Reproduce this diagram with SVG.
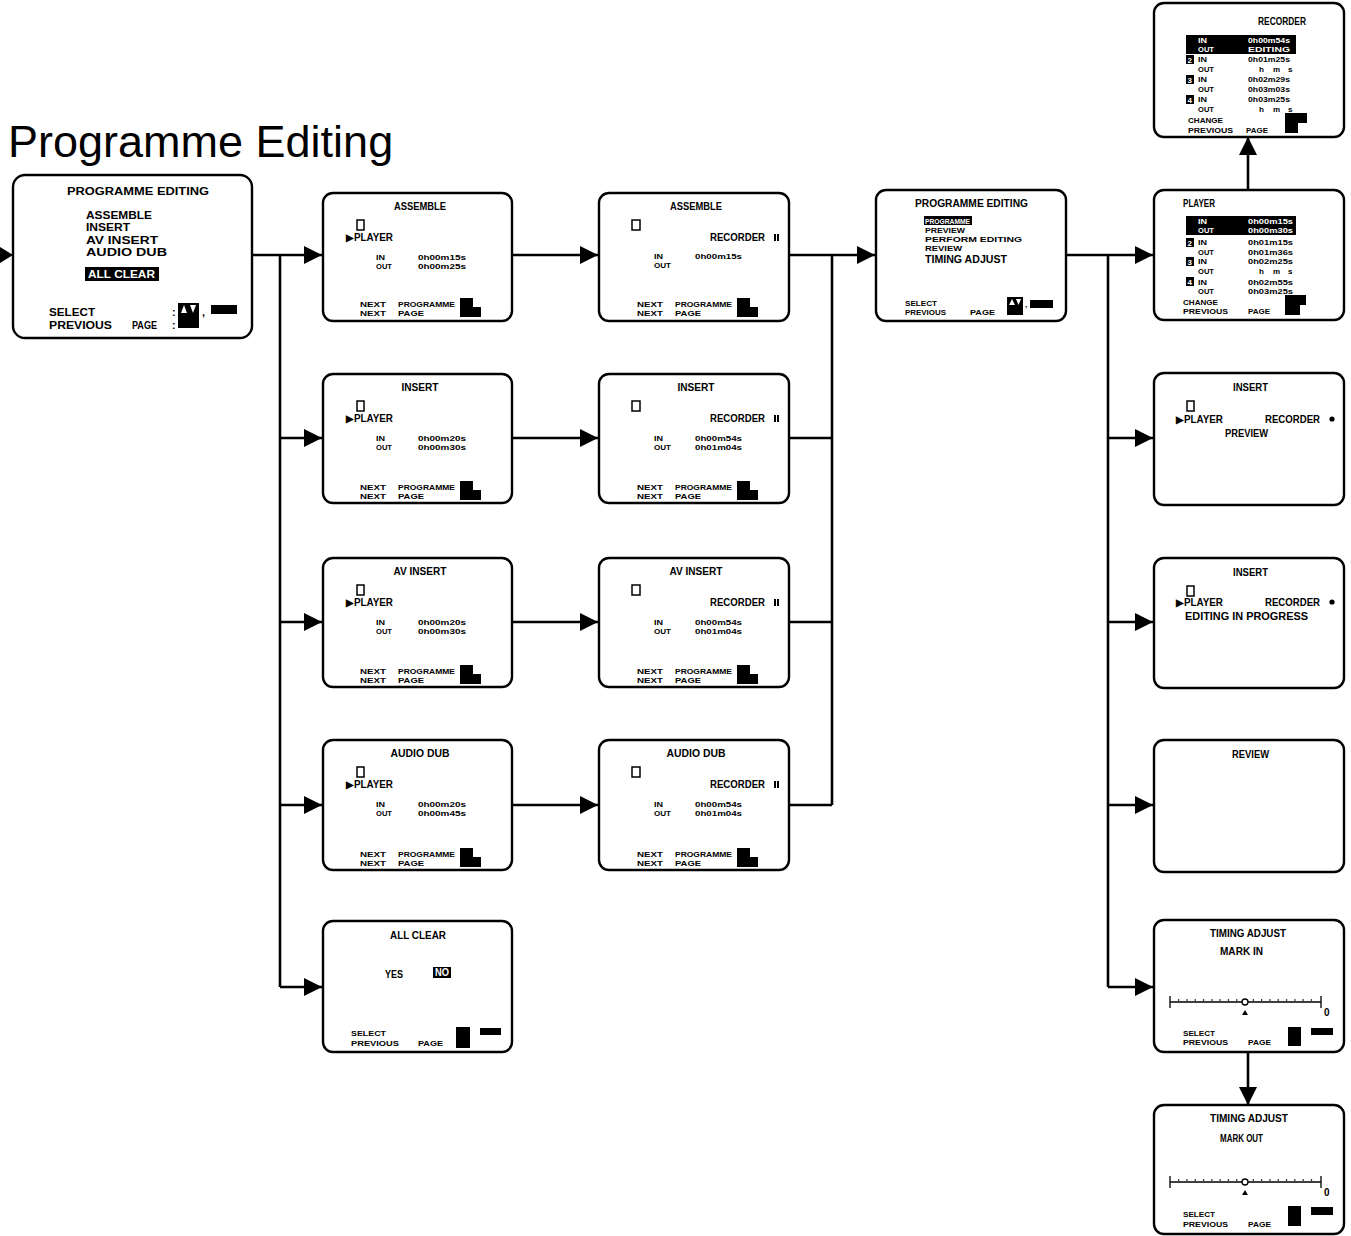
<svg xmlns="http://www.w3.org/2000/svg" width="1351" height="1236" viewBox="0 0 1351 1236">
<style>
.scr{fill:#fff;stroke:#000;stroke-width:2.4}
.t{font-family:"Liberation Sans",Arial,sans-serif;font-weight:bold;font-size:8px;fill:#000}
.m{font-size:10px}
.lg{font-size:10.5px}
.w{fill:#fff}
.blk{fill:#000}
.ic{fill:#fff;stroke:#000;stroke-width:1.5}
.ln{stroke:#000;stroke-width:2.6;fill:none}
.sc{stroke:#000;stroke-width:1.3;fill:none}
</style>
<defs>
<marker id="ah" markerUnits="userSpaceOnUse" markerWidth="20" markerHeight="20" viewBox="0 0 20 20" refX="18" refY="10" orient="auto">
<path d="M0,1 L18,10 L0,19 z" fill="#000"/>
</marker>
</defs>
<rect width="1351" height="1236" fill="#fff"/>
<text x="8" y="157" font-family="'Liberation Sans',Arial,sans-serif" font-size="45" fill="#000">Programme Editing</text>

<g id="connectors">
<polygon points="0,247 13,255 0,263" fill="#000"/>
<path class="ln" d="M252,255 H280 M280,255 V987"/>
<path class="ln" marker-end="url(#ah)" d="M280,255 H322"/>
<path class="ln" marker-end="url(#ah)" d="M280,438 H322"/>
<path class="ln" marker-end="url(#ah)" d="M280,622 H322"/>
<path class="ln" marker-end="url(#ah)" d="M280,805 H322"/>
<path class="ln" marker-end="url(#ah)" d="M280,987 H322"/>
<path class="ln" marker-end="url(#ah)" d="M512,255 H598"/>
<path class="ln" marker-end="url(#ah)" d="M512,438 H598"/>
<path class="ln" marker-end="url(#ah)" d="M512,622 H598"/>
<path class="ln" marker-end="url(#ah)" d="M512,805 H598"/>
<path class="ln" d="M790,255 H832 M790,438 H832 M790,622 H832 M790,805 H832 M832,255 V805"/>
<path class="ln" marker-end="url(#ah)" d="M832,255 H875"/>
<path class="ln" d="M1066,255 H1108 M1108,255 V987"/>
<path class="ln" marker-end="url(#ah)" d="M1108,255 H1153"/>
<path class="ln" marker-end="url(#ah)" d="M1108,438 H1153"/>
<path class="ln" marker-end="url(#ah)" d="M1108,622 H1153"/>
<path class="ln" marker-end="url(#ah)" d="M1108,805 H1153"/>
<path class="ln" marker-end="url(#ah)" d="M1108,987 H1153"/>
<path class="ln" marker-end="url(#ah)" d="M1248,190 V137"/>
<path class="ln" marker-end="url(#ah)" d="M1248,1052 V1105"/>
</g>

<!-- Left main menu -->
<g id="menu-main">
<rect class="scr" x="13" y="175" width="239" height="163" rx="12"/>
<text class="t lg" x="67" y="195" textLength="142" lengthAdjust="spacingAndGlyphs">PROGRAMME  EDITING</text>
<text class="t lg" x="86" y="219" textLength="66" lengthAdjust="spacingAndGlyphs">ASSEMBLE</text>
<text class="t lg" x="86" y="231" textLength="44" lengthAdjust="spacingAndGlyphs">INSERT</text>
<text class="t lg" x="86" y="244" textLength="72" lengthAdjust="spacingAndGlyphs">AV  INSERT</text>
<text class="t lg" x="86" y="256" textLength="81" lengthAdjust="spacingAndGlyphs">AUDIO  DUB</text>
<rect class="blk" x="85" y="267" width="74" height="14"/>
<text class="t lg w" x="88" y="278" textLength="67" lengthAdjust="spacingAndGlyphs">ALL  CLEAR</text>
<text class="t lg" x="49" y="316" textLength="46" lengthAdjust="spacingAndGlyphs">SELECT</text>
<text class="t lg" x="49" y="329" textLength="63" lengthAdjust="spacingAndGlyphs">PREVIOUS</text>
<text class="t lg" x="132" y="329" textLength="25" lengthAdjust="spacingAndGlyphs">PAGE</text>
<text class="t lg" x="172" y="316">:</text>
<text class="t lg" x="172" y="329">:</text>
<rect class="blk" x="178" y="303" width="21" height="25"/>
<path class="w" d="M181,313 L184,305 L187,313 z M190,305 L196,305 L193,313 z"/>
<text class="t lg" x="202" y="316">,</text>
<rect class="blk" x="211" y="305" width="26" height="9"/>
</g>

<!-- Column 2 -->
<g id="assemble-player" transform="translate(323,193)">
<rect class="scr" x="0" y="0" width="189" height="128" rx="10"/>
<text class="t m" x="97" y="17" text-anchor="middle" textLength="52" lengthAdjust="spacingAndGlyphs">ASSEMBLE</text>
<rect class="ic" x="34" y="27" width="7" height="10"/>
<text class="t m" x="23" y="48" textLength="47" lengthAdjust="spacingAndGlyphs">▶PLAYER</text>
<text class="t" x="53" y="67" textLength="9" lengthAdjust="spacingAndGlyphs">IN</text>
<text class="t" x="53" y="76" textLength="16" lengthAdjust="spacingAndGlyphs">OUT</text>
<text class="t" x="95" y="67" textLength="48" lengthAdjust="spacingAndGlyphs">0h00m15s</text>
<text class="t" x="95" y="76" textLength="48" lengthAdjust="spacingAndGlyphs">0h00m25s</text>
<text class="t" x="37" y="114" textLength="26" lengthAdjust="spacingAndGlyphs">NEXT</text>
<text class="t" x="75" y="114" textLength="57" lengthAdjust="spacingAndGlyphs">PROGRAMME</text>
<text class="t" x="37" y="123" textLength="26" lengthAdjust="spacingAndGlyphs">NEXT</text>
<text class="t" x="75" y="123" textLength="26" lengthAdjust="spacingAndGlyphs">PAGE</text>
<rect class="blk" x="137" y="105" width="13" height="9"/>
<rect class="blk" x="137" y="114" width="21" height="10"/>
</g>
<g id="insert-player" transform="translate(323,374)">
<rect class="scr" x="0" y="0" width="189" height="129" rx="10"/>
<text class="t m" x="97" y="17" text-anchor="middle" textLength="37" lengthAdjust="spacingAndGlyphs">INSERT</text>
<rect class="ic" x="34" y="27" width="7" height="10"/>
<text class="t m" x="23" y="48" textLength="47" lengthAdjust="spacingAndGlyphs">▶PLAYER</text>
<text class="t" x="53" y="67" textLength="9" lengthAdjust="spacingAndGlyphs">IN</text>
<text class="t" x="53" y="76" textLength="16" lengthAdjust="spacingAndGlyphs">OUT</text>
<text class="t" x="95" y="67" textLength="48" lengthAdjust="spacingAndGlyphs">0h00m20s</text>
<text class="t" x="95" y="76" textLength="48" lengthAdjust="spacingAndGlyphs">0h00m30s</text>
<text class="t" x="37" y="116" textLength="26" lengthAdjust="spacingAndGlyphs">NEXT</text>
<text class="t" x="75" y="116" textLength="57" lengthAdjust="spacingAndGlyphs">PROGRAMME</text>
<text class="t" x="37" y="125" textLength="26" lengthAdjust="spacingAndGlyphs">NEXT</text>
<text class="t" x="75" y="125" textLength="26" lengthAdjust="spacingAndGlyphs">PAGE</text>
<rect class="blk" x="137" y="107" width="13" height="9"/>
<rect class="blk" x="137" y="116" width="21" height="10"/>
</g>
<g id="avinsert-player" transform="translate(323,558)">
<rect class="scr" x="0" y="0" width="189" height="129" rx="10"/>
<text class="t m" x="97" y="17" text-anchor="middle" textLength="53" lengthAdjust="spacingAndGlyphs">AV  INSERT</text>
<rect class="ic" x="34" y="27" width="7" height="10"/>
<text class="t m" x="23" y="48" textLength="47" lengthAdjust="spacingAndGlyphs">▶PLAYER</text>
<text class="t" x="53" y="67" textLength="9" lengthAdjust="spacingAndGlyphs">IN</text>
<text class="t" x="53" y="76" textLength="16" lengthAdjust="spacingAndGlyphs">OUT</text>
<text class="t" x="95" y="67" textLength="48" lengthAdjust="spacingAndGlyphs">0h00m20s</text>
<text class="t" x="95" y="76" textLength="48" lengthAdjust="spacingAndGlyphs">0h00m30s</text>
<text class="t" x="37" y="116" textLength="26" lengthAdjust="spacingAndGlyphs">NEXT</text>
<text class="t" x="75" y="116" textLength="57" lengthAdjust="spacingAndGlyphs">PROGRAMME</text>
<text class="t" x="37" y="125" textLength="26" lengthAdjust="spacingAndGlyphs">NEXT</text>
<text class="t" x="75" y="125" textLength="26" lengthAdjust="spacingAndGlyphs">PAGE</text>
<rect class="blk" x="137" y="107" width="13" height="9"/>
<rect class="blk" x="137" y="116" width="21" height="10"/>
</g>
<g id="audiodub-player" transform="translate(323,740)">
<rect class="scr" x="0" y="0" width="189" height="130" rx="10"/>
<text class="t m" x="97" y="17" text-anchor="middle" textLength="59" lengthAdjust="spacingAndGlyphs">AUDIO  DUB</text>
<rect class="ic" x="34" y="27" width="7" height="10"/>
<text class="t m" x="23" y="48" textLength="47" lengthAdjust="spacingAndGlyphs">▶PLAYER</text>
<text class="t" x="53" y="67" textLength="9" lengthAdjust="spacingAndGlyphs">IN</text>
<text class="t" x="53" y="76" textLength="16" lengthAdjust="spacingAndGlyphs">OUT</text>
<text class="t" x="95" y="67" textLength="48" lengthAdjust="spacingAndGlyphs">0h00m20s</text>
<text class="t" x="95" y="76" textLength="48" lengthAdjust="spacingAndGlyphs">0h00m45s</text>
<text class="t" x="37" y="117" textLength="26" lengthAdjust="spacingAndGlyphs">NEXT</text>
<text class="t" x="75" y="117" textLength="57" lengthAdjust="spacingAndGlyphs">PROGRAMME</text>
<text class="t" x="37" y="126" textLength="26" lengthAdjust="spacingAndGlyphs">NEXT</text>
<text class="t" x="75" y="126" textLength="26" lengthAdjust="spacingAndGlyphs">PAGE</text>
<rect class="blk" x="137" y="108" width="13" height="9"/>
<rect class="blk" x="137" y="117" width="21" height="10"/>
</g>
<g id="allclear" transform="translate(323,921)">
<rect class="scr" x="0" y="0" width="189" height="131" rx="10"/>
<text class="t m" x="95" y="18" text-anchor="middle" textLength="56" lengthAdjust="spacingAndGlyphs">ALL  CLEAR</text>
<text class="t m" x="62" y="57" textLength="18" lengthAdjust="spacingAndGlyphs">YES</text>
<rect class="blk" x="110" y="46" width="18" height="11"/>
<text class="t m w" x="112" y="55" textLength="14" lengthAdjust="spacingAndGlyphs">NO</text>
<text class="t" x="28" y="115" textLength="35" lengthAdjust="spacingAndGlyphs">SELECT</text>
<text class="t" x="28" y="125" textLength="48" lengthAdjust="spacingAndGlyphs">PREVIOUS</text>
<text class="t" x="95" y="125" textLength="25" lengthAdjust="spacingAndGlyphs">PAGE</text>
<rect class="blk" x="133" y="106" width="14" height="21"/>
<rect class="blk" x="157" y="107" width="21" height="7"/>
</g>

<!-- Column 3 -->
<g id="assemble-recorder" transform="translate(599,193)">
<rect class="scr" x="0" y="0" width="190" height="128" rx="10"/>
<text class="t m" x="97" y="17" text-anchor="middle" textLength="52" lengthAdjust="spacingAndGlyphs">ASSEMBLE</text>
<rect class="ic" x="33" y="27" width="8" height="10"/>
<text class="t m" x="111" y="48" textLength="55" lengthAdjust="spacingAndGlyphs">RECORDER</text>
<rect class="blk" x="175" y="41" width="2" height="7"/><rect class="blk" x="178" y="41" width="2" height="7"/>
<text class="t" x="55" y="66" textLength="9" lengthAdjust="spacingAndGlyphs">IN</text>
<text class="t" x="55" y="75" textLength="17" lengthAdjust="spacingAndGlyphs">OUT</text>
<text class="t" x="96" y="66" textLength="47" lengthAdjust="spacingAndGlyphs">0h00m15s</text>
<text class="t" x="38" y="114" textLength="26" lengthAdjust="spacingAndGlyphs">NEXT</text>
<text class="t" x="76" y="114" textLength="57" lengthAdjust="spacingAndGlyphs">PROGRAMME</text>
<text class="t" x="38" y="123" textLength="26" lengthAdjust="spacingAndGlyphs">NEXT</text>
<text class="t" x="76" y="123" textLength="26" lengthAdjust="spacingAndGlyphs">PAGE</text>
<rect class="blk" x="138" y="105" width="13" height="9"/>
<rect class="blk" x="138" y="114" width="21" height="10"/>
</g>
<g id="insert-recorder" transform="translate(599,374)">
<rect class="scr" x="0" y="0" width="190" height="129" rx="10"/>
<text class="t m" x="97" y="17" text-anchor="middle" textLength="37" lengthAdjust="spacingAndGlyphs">INSERT</text>
<rect class="ic" x="33" y="27" width="8" height="10"/>
<text class="t m" x="111" y="48" textLength="55" lengthAdjust="spacingAndGlyphs">RECORDER</text>
<rect class="blk" x="175" y="41" width="2" height="7"/><rect class="blk" x="178" y="41" width="2" height="7"/>
<text class="t" x="55" y="67" textLength="9" lengthAdjust="spacingAndGlyphs">IN</text>
<text class="t" x="55" y="76" textLength="17" lengthAdjust="spacingAndGlyphs">OUT</text>
<text class="t" x="96" y="67" textLength="47" lengthAdjust="spacingAndGlyphs">0h00m54s</text>
<text class="t" x="96" y="76" textLength="47" lengthAdjust="spacingAndGlyphs">0h01m04s</text>
<text class="t" x="38" y="116" textLength="26" lengthAdjust="spacingAndGlyphs">NEXT</text>
<text class="t" x="76" y="116" textLength="57" lengthAdjust="spacingAndGlyphs">PROGRAMME</text>
<text class="t" x="38" y="125" textLength="26" lengthAdjust="spacingAndGlyphs">NEXT</text>
<text class="t" x="76" y="125" textLength="26" lengthAdjust="spacingAndGlyphs">PAGE</text>
<rect class="blk" x="138" y="107" width="13" height="9"/>
<rect class="blk" x="138" y="116" width="21" height="10"/>
</g>
<g id="avinsert-recorder" transform="translate(599,558)">
<rect class="scr" x="0" y="0" width="190" height="129" rx="10"/>
<text class="t m" x="97" y="17" text-anchor="middle" textLength="53" lengthAdjust="spacingAndGlyphs">AV  INSERT</text>
<rect class="ic" x="33" y="27" width="8" height="10"/>
<text class="t m" x="111" y="48" textLength="55" lengthAdjust="spacingAndGlyphs">RECORDER</text>
<rect class="blk" x="175" y="41" width="2" height="7"/><rect class="blk" x="178" y="41" width="2" height="7"/>
<text class="t" x="55" y="67" textLength="9" lengthAdjust="spacingAndGlyphs">IN</text>
<text class="t" x="55" y="76" textLength="17" lengthAdjust="spacingAndGlyphs">OUT</text>
<text class="t" x="96" y="67" textLength="47" lengthAdjust="spacingAndGlyphs">0h00m54s</text>
<text class="t" x="96" y="76" textLength="47" lengthAdjust="spacingAndGlyphs">0h01m04s</text>
<text class="t" x="38" y="116" textLength="26" lengthAdjust="spacingAndGlyphs">NEXT</text>
<text class="t" x="76" y="116" textLength="57" lengthAdjust="spacingAndGlyphs">PROGRAMME</text>
<text class="t" x="38" y="125" textLength="26" lengthAdjust="spacingAndGlyphs">NEXT</text>
<text class="t" x="76" y="125" textLength="26" lengthAdjust="spacingAndGlyphs">PAGE</text>
<rect class="blk" x="138" y="107" width="13" height="9"/>
<rect class="blk" x="138" y="116" width="21" height="10"/>
</g>
<g id="audiodub-recorder" transform="translate(599,740)">
<rect class="scr" x="0" y="0" width="190" height="130" rx="10"/>
<text class="t m" x="97" y="17" text-anchor="middle" textLength="59" lengthAdjust="spacingAndGlyphs">AUDIO  DUB</text>
<rect class="ic" x="33" y="27" width="8" height="10"/>
<text class="t m" x="111" y="48" textLength="55" lengthAdjust="spacingAndGlyphs">RECORDER</text>
<rect class="blk" x="175" y="41" width="2" height="7"/><rect class="blk" x="178" y="41" width="2" height="7"/>
<text class="t" x="55" y="67" textLength="9" lengthAdjust="spacingAndGlyphs">IN</text>
<text class="t" x="55" y="76" textLength="17" lengthAdjust="spacingAndGlyphs">OUT</text>
<text class="t" x="96" y="67" textLength="47" lengthAdjust="spacingAndGlyphs">0h00m54s</text>
<text class="t" x="96" y="76" textLength="47" lengthAdjust="spacingAndGlyphs">0h01m04s</text>
<text class="t" x="38" y="117" textLength="26" lengthAdjust="spacingAndGlyphs">NEXT</text>
<text class="t" x="76" y="117" textLength="57" lengthAdjust="spacingAndGlyphs">PROGRAMME</text>
<text class="t" x="38" y="126" textLength="26" lengthAdjust="spacingAndGlyphs">NEXT</text>
<text class="t" x="76" y="126" textLength="26" lengthAdjust="spacingAndGlyphs">PAGE</text>
<rect class="blk" x="138" y="108" width="13" height="9"/>
<rect class="blk" x="138" y="117" width="21" height="10"/>
</g>

<!-- Column 4 -->
<g id="menu-editing" transform="translate(876,190)">
<rect class="scr" x="0" y="0" width="190" height="131" rx="10"/>
<text class="t m" x="39" y="17" textLength="113" lengthAdjust="spacingAndGlyphs">PROGRAMME  EDITING</text>
<rect class="blk" x="48" y="26" width="48" height="9"/>
<text class="t w" x="49" y="33.5" textLength="45" lengthAdjust="spacingAndGlyphs">PROGRAMME</text>
<text class="t" x="49" y="43" textLength="40" lengthAdjust="spacingAndGlyphs">PREVIEW</text>
<text class="t" x="49" y="52" textLength="97" lengthAdjust="spacingAndGlyphs">PERFORM  EDITING</text>
<text class="t" x="49" y="61" textLength="37" lengthAdjust="spacingAndGlyphs">REVIEW</text>
<text class="t m" x="49" y="73" textLength="82" lengthAdjust="spacingAndGlyphs">TIMING  ADJUST</text>
<text class="t" x="29" y="116" textLength="32" lengthAdjust="spacingAndGlyphs">SELECT</text>
<text class="t" x="29" y="125" textLength="41" lengthAdjust="spacingAndGlyphs">PREVIOUS</text>
<text class="t" x="94" y="125" textLength="25" lengthAdjust="spacingAndGlyphs">PAGE</text>
<rect class="blk" x="131" y="107" width="16" height="18"/>
<path class="w" d="M133,115 L136,109 L139,115 z M140,109 L145,109 L142.5,115 z"/>
<text class="t" x="149" y="117">,</text>
<rect class="blk" x="154" y="110" width="23" height="8"/>
</g>

<!-- Column 5 -->
<g id="recorder-list" transform="translate(1154,3)">
<rect class="scr" x="0" y="0" width="190" height="134" rx="10"/>
<text class="t m" x="104" y="22" textLength="48" lengthAdjust="spacingAndGlyphs">RECORDER</text>
<rect class="blk" x="32" y="32" width="110" height="19"/>
<text class="t w" x="44" y="40" textLength="9" lengthAdjust="spacingAndGlyphs">IN</text>
<text class="t w" x="94" y="40" textLength="42" lengthAdjust="spacingAndGlyphs">0h00m54s</text>
<text class="t w" x="44" y="49" textLength="16" lengthAdjust="spacingAndGlyphs">OUT</text>
<text class="t w" x="94" y="49" textLength="42" lengthAdjust="spacingAndGlyphs">EDITING</text>
<rect class="blk" x="32" y="52" width="8" height="9"/><text class="t w" x="33.5" y="59.5" font-size="7">2</text>
<text class="t" x="44" y="59" textLength="9" lengthAdjust="spacingAndGlyphs">IN</text>
<text class="t" x="94" y="59" textLength="42" lengthAdjust="spacingAndGlyphs">0h01m25s</text>
<text class="t" x="44" y="69" textLength="16" lengthAdjust="spacingAndGlyphs">OUT</text>
<text class="t" x="105" y="69">h</text><text class="t" x="119" y="69">m</text><text class="t" x="134" y="69">s</text>
<rect class="blk" x="32" y="72" width="8" height="9"/><text class="t w" x="33.5" y="79.5" font-size="7">3</text>
<text class="t" x="44" y="79" textLength="9" lengthAdjust="spacingAndGlyphs">IN</text>
<text class="t" x="94" y="79" textLength="42" lengthAdjust="spacingAndGlyphs">0h02m29s</text>
<text class="t" x="44" y="89" textLength="16" lengthAdjust="spacingAndGlyphs">OUT</text>
<text class="t" x="94" y="89" textLength="42" lengthAdjust="spacingAndGlyphs">0h03m03s</text>
<rect class="blk" x="32" y="92" width="8" height="9"/><text class="t w" x="33.5" y="99.5" font-size="7">4</text>
<text class="t" x="44" y="99" textLength="9" lengthAdjust="spacingAndGlyphs">IN</text>
<text class="t" x="94" y="99" textLength="42" lengthAdjust="spacingAndGlyphs">0h03m25s</text>
<text class="t" x="44" y="109" textLength="16" lengthAdjust="spacingAndGlyphs">OUT</text>
<text class="t" x="105" y="109">h</text><text class="t" x="119" y="109">m</text><text class="t" x="134" y="109">s</text>
<text class="t" x="34" y="120" textLength="35" lengthAdjust="spacingAndGlyphs">CHANGE</text>
<text class="t" x="34" y="130" textLength="45" lengthAdjust="spacingAndGlyphs">PREVIOUS</text>
<text class="t" x="92" y="130" textLength="22" lengthAdjust="spacingAndGlyphs">PAGE</text>
<rect class="blk" x="131" y="110" width="22" height="10"/>
<rect class="blk" x="131" y="120" width="13" height="10"/>
</g>
<g id="player-list" transform="translate(1154,190)">
<rect class="scr" x="0" y="0" width="190" height="130" rx="10"/>
<text class="t m" x="29" y="17" textLength="32" lengthAdjust="spacingAndGlyphs">PLAYER</text>
<rect class="blk" x="32" y="26" width="110" height="19"/>
<text class="t w" x="44" y="34" textLength="9" lengthAdjust="spacingAndGlyphs">IN</text>
<text class="t w" x="94" y="34" textLength="45" lengthAdjust="spacingAndGlyphs">0h00m15s</text>
<text class="t w" x="44" y="43" textLength="16" lengthAdjust="spacingAndGlyphs">OUT</text>
<text class="t w" x="94" y="43" textLength="45" lengthAdjust="spacingAndGlyphs">0h00m30s</text>
<rect class="blk" x="32" y="48" width="8" height="9"/><text class="t w" x="33.5" y="55.5" font-size="7">2</text>
<text class="t" x="44" y="55" textLength="9" lengthAdjust="spacingAndGlyphs">IN</text>
<text class="t" x="94" y="55" textLength="45" lengthAdjust="spacingAndGlyphs">0h01m15s</text>
<text class="t" x="44" y="65" textLength="16" lengthAdjust="spacingAndGlyphs">OUT</text>
<text class="t" x="94" y="65" textLength="45" lengthAdjust="spacingAndGlyphs">0h01m36s</text>
<rect class="blk" x="32" y="67" width="8" height="9"/><text class="t w" x="33.5" y="74.5" font-size="7">3</text>
<text class="t" x="44" y="74" textLength="9" lengthAdjust="spacingAndGlyphs">IN</text>
<text class="t" x="94" y="74" textLength="45" lengthAdjust="spacingAndGlyphs">0h02m25s</text>
<text class="t" x="44" y="84" textLength="16" lengthAdjust="spacingAndGlyphs">OUT</text>
<text class="t" x="105" y="84">h</text><text class="t" x="119" y="84">m</text><text class="t" x="134" y="84">s</text>
<rect class="blk" x="32" y="87" width="8" height="9"/><text class="t w" x="33.5" y="94.5" font-size="7">4</text>
<text class="t" x="44" y="95" textLength="9" lengthAdjust="spacingAndGlyphs">IN</text>
<text class="t" x="94" y="95" textLength="45" lengthAdjust="spacingAndGlyphs">0h02m55s</text>
<text class="t" x="44" y="104" textLength="16" lengthAdjust="spacingAndGlyphs">OUT</text>
<text class="t" x="94" y="104" textLength="45" lengthAdjust="spacingAndGlyphs">0h03m25s</text>
<text class="t" x="29" y="115" textLength="35" lengthAdjust="spacingAndGlyphs">CHANGE</text>
<text class="t" x="29" y="124" textLength="45" lengthAdjust="spacingAndGlyphs">PREVIOUS</text>
<text class="t" x="94" y="124" textLength="22" lengthAdjust="spacingAndGlyphs">PAGE</text>
<rect class="blk" x="131" y="105" width="21" height="10"/>
<rect class="blk" x="131" y="115" width="15" height="10"/>
</g>
<g id="insert-preview" transform="translate(1154,373)">
<rect class="scr" x="0" y="0" width="190" height="132" rx="10"/>
<text class="t m" x="79" y="18" textLength="35" lengthAdjust="spacingAndGlyphs">INSERT</text>
<rect class="ic" x="33" y="28" width="7" height="10"/>
<text class="t m" x="22" y="50" textLength="47" lengthAdjust="spacingAndGlyphs">▶PLAYER</text>
<text class="t m" x="111" y="50" textLength="55" lengthAdjust="spacingAndGlyphs">RECORDER</text>
<circle class="blk" cx="178" cy="46" r="2.6"/>
<text class="t m" x="71" y="64" textLength="43" lengthAdjust="spacingAndGlyphs">PREVIEW</text>
</g>
<g id="insert-progress" transform="translate(1154,558)">
<rect class="scr" x="0" y="0" width="190" height="130" rx="10"/>
<text class="t m" x="79" y="18" textLength="35" lengthAdjust="spacingAndGlyphs">INSERT</text>
<rect class="ic" x="33" y="28" width="7" height="10"/>
<text class="t m" x="22" y="48" textLength="47" lengthAdjust="spacingAndGlyphs">▶PLAYER</text>
<text class="t m" x="111" y="48" textLength="55" lengthAdjust="spacingAndGlyphs">RECORDER</text>
<circle class="blk" cx="178" cy="44" r="2.6"/>
<text class="t m" x="31" y="62" textLength="123" lengthAdjust="spacingAndGlyphs">EDITING  IN  PROGRESS</text>
</g>
<g id="review" transform="translate(1154,740)">
<rect class="scr" x="0" y="0" width="190" height="132" rx="10"/>
<text class="t m" x="78" y="18" textLength="37" lengthAdjust="spacingAndGlyphs">REVIEW</text>
</g>
<g id="timing-in" transform="translate(1154,920)">
<rect class="scr" x="0" y="0" width="190" height="132" rx="10"/>
<text class="t m" x="56" y="17" textLength="76" lengthAdjust="spacingAndGlyphs">TIMING  ADJUST</text>
<text class="t m" x="66" y="35" textLength="43" lengthAdjust="spacingAndGlyphs">MARK  IN</text>
<path class="sc" d="M16,82 H167 M16,76 V88 M167,76 V88"/>
<path class="sc" stroke-dasharray="1.3 7" d="M24,80 H162"/>
<circle cx="91" cy="82" r="3" fill="#fff" stroke="#000" stroke-width="1.3"/>
<path class="blk" d="M88,95 L91,90 L94,95 z"/>
<text class="t m" x="170" y="96">0</text>
<text class="t" x="29" y="116" textLength="32" lengthAdjust="spacingAndGlyphs">SELECT</text>
<text class="t" x="29" y="125" textLength="45" lengthAdjust="spacingAndGlyphs">PREVIOUS</text>
<text class="t" x="94" y="125" textLength="23" lengthAdjust="spacingAndGlyphs">PAGE</text>
<rect class="blk" x="134" y="107" width="13" height="19"/>
<rect class="blk" x="157" y="108" width="22" height="7"/>
</g>
<g id="timing-out" transform="translate(1154,1105)">
<rect class="scr" x="0" y="0" width="190" height="129" rx="10"/>
<text class="t m" x="56" y="17" textLength="78" lengthAdjust="spacingAndGlyphs">TIMING  ADJUST</text>
<text class="t m" x="66" y="37" textLength="43" lengthAdjust="spacingAndGlyphs">MARK  OUT</text>
<path class="sc" d="M16,77 H167 M16,71 V83 M167,71 V83"/>
<path class="sc" stroke-dasharray="1.3 7" d="M24,75 H162"/>
<circle cx="91" cy="77" r="3" fill="#fff" stroke="#000" stroke-width="1.3"/>
<path class="blk" d="M88,90 L91,85 L94,90 z"/>
<text class="t m" x="170" y="91">0</text>
<text class="t" x="29" y="112" textLength="32" lengthAdjust="spacingAndGlyphs">SELECT</text>
<text class="t" x="29" y="122" textLength="45" lengthAdjust="spacingAndGlyphs">PREVIOUS</text>
<text class="t" x="94" y="122" textLength="23" lengthAdjust="spacingAndGlyphs">PAGE</text>
<rect class="blk" x="134" y="101" width="13" height="20"/>
<rect class="blk" x="157" y="102" width="22" height="8"/>
</g>
</svg>
